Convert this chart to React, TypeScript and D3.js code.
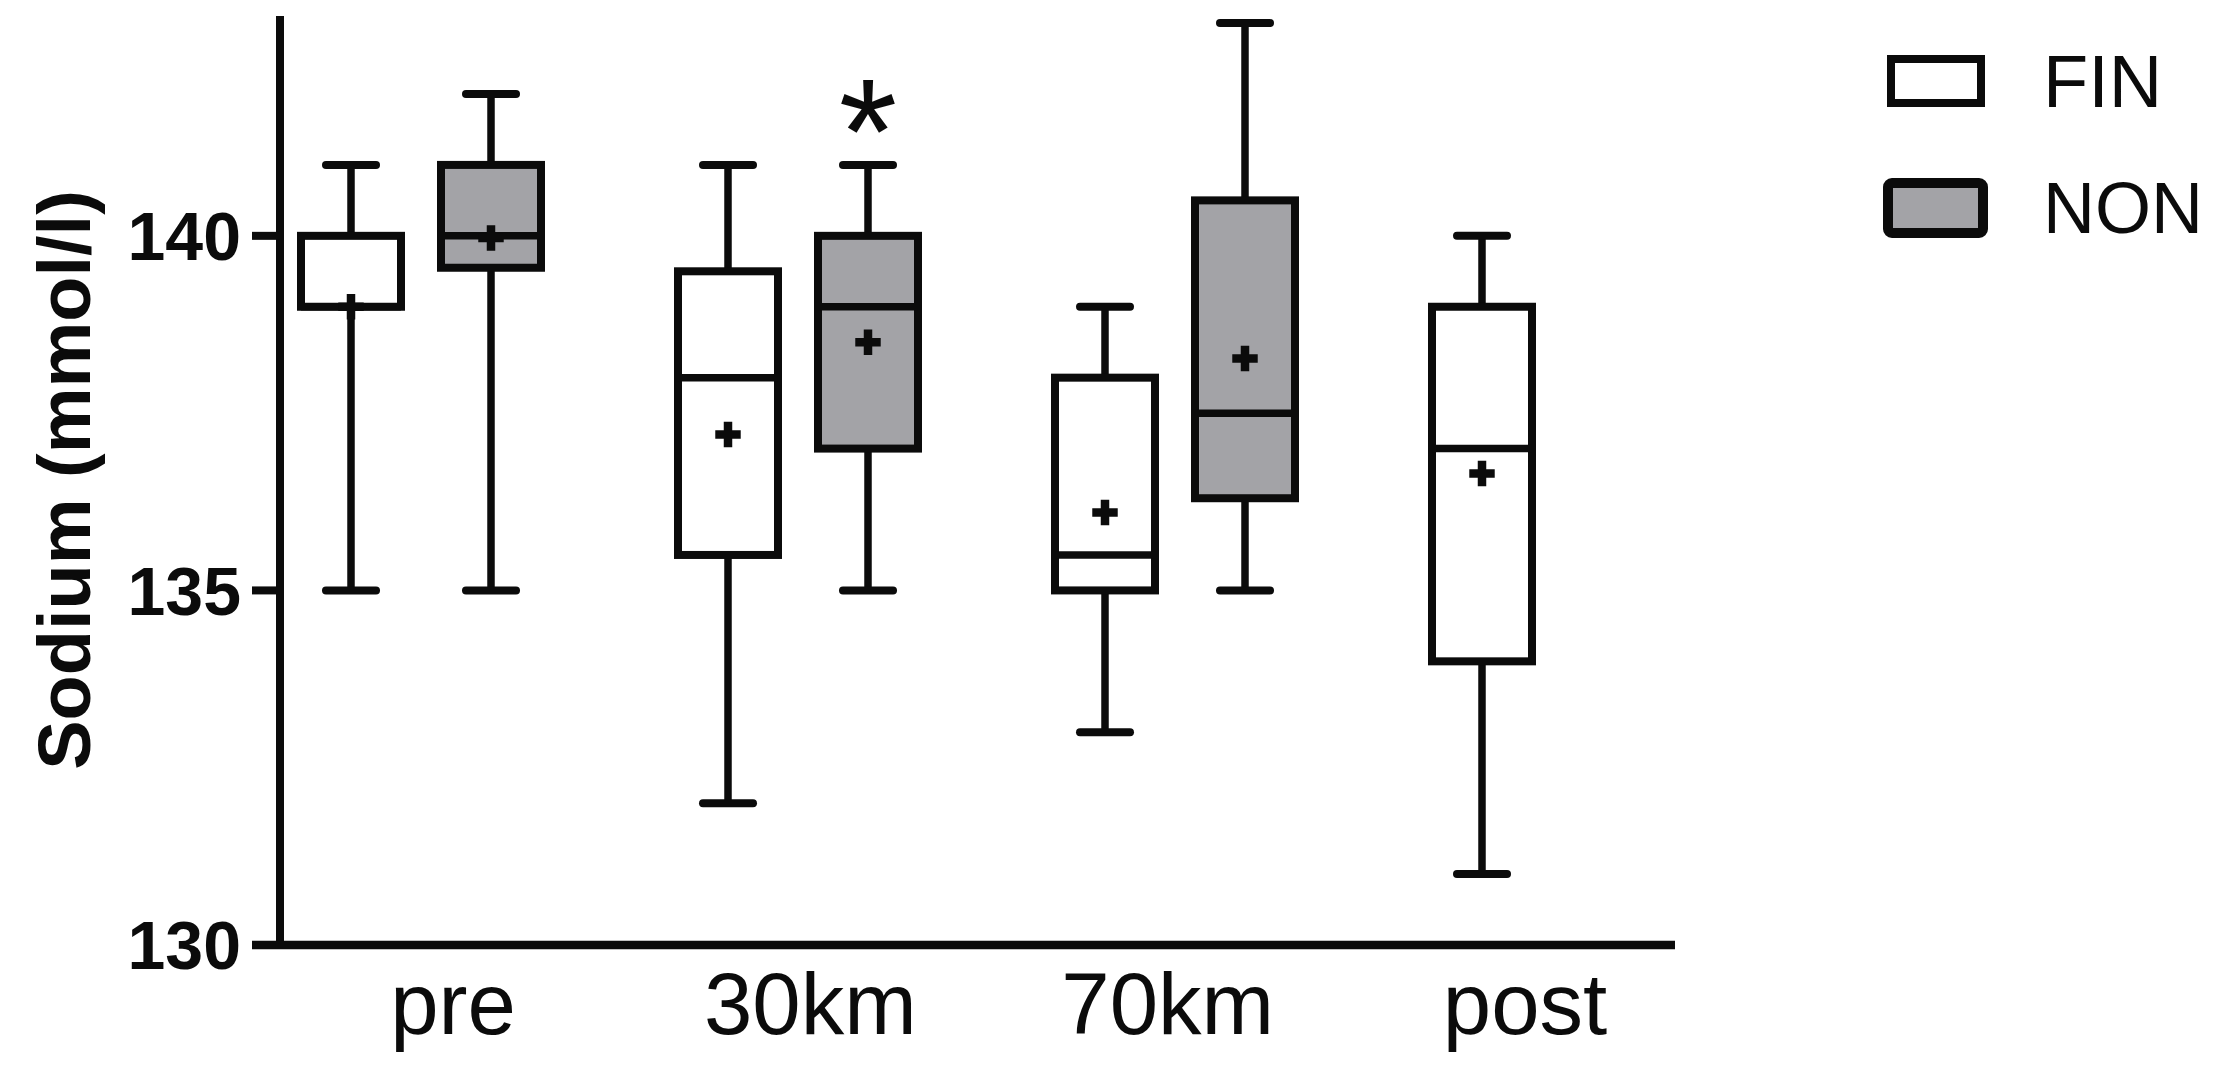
import React from 'react';
import * as d3 from 'd3';

const categories = ['pre', '30km', '70km', 'post'];
const seriesNames = ['FIN', 'NON'];

const finMin = [135, 132, 133, 131];
const finQ1 = [139, 135.5, 135, 134];
const finMedian = [139, 138, 135.5, 137];
const finQ3 = [140, 139.5, 138, 139];
const finMax = [141, 141, 139, 140];
const finMean = [139, 137.2, 136.1, 136.65];

const nonMin = [135, 135, 135, null];
const nonQ1 = [139.55, 137, 136.3, null];
const nonMedian = [140, 139, 137.5, null];
const nonQ3 = [141, 140, 140.5, null];
const nonMax = [142, 141, 143, null];
const nonMean = [139.97, 138.5, 138.27, null];

const yTicks = [130, 135, 140];
const sigCategory = '30km';
const sigSeries = 'NON';
const sigLabel = '*';
const yTitle = 'Sodium (mmol/l)';

const W = 2217;
const H = 1068;
const FONT = '"Liberation Sans", Arial, Helvetica, sans-serif';
const GRAY = '#a3a3a7';
const INK = '#0b0b0b';

export default function App() {
  const y = d3.scaleLinear().domain([130, 143.1]).range([945, 16]);
  const xGroup = d3.scalePoint<string>().domain(categories).range([421, 1552]);
  const xSeries = d3.scalePoint<string>().domain(seriesNames).range([-70, 70]);
  const xLabel = d3.scalePoint<string>().domain(categories).range([453, 1525]);
  const axisX = 280;
  const tickLeft = 252;
  const axisRight = 1675;
  const boxW = 100;
  const capW = 50;
  const sw = 8;

  type Box = { cat: string; ser: string; min: number; q1: number; med: number; q3: number; max: number; mean: number };
  const boxes: Box[] = [];
  categories.forEach((c, i) => {
    boxes.push({ cat: c, ser: 'FIN', min: finMin[i], q1: finQ1[i], med: finMedian[i], q3: finQ3[i], max: finMax[i], mean: finMean[i] });
    if (nonMin[i] != null) {
      boxes.push({ cat: c, ser: 'NON', min: nonMin[i] as number, q1: nonQ1[i] as number, med: nonMedian[i] as number, q3: nonQ3[i] as number, max: nonMax[i] as number, mean: nonMean[i] as number });
    }
  });

  const cross = d3.symbol().type(d3.symbolCross).size(360)() as string;
  const sigBox = boxes.find((b) => b.cat === sigCategory && b.ser === sigSeries)!;
  const sigX = (xGroup(sigCategory) as number) + (xSeries(sigSeries) as number);

  return (
    <svg width={W} height={H} style={{ position: 'absolute', left: 0, top: 0, background: '#fff' }} xmlns="http://www.w3.org/2000/svg">
      <rect x={0} y={0} width={W} height={H} fill="#fff" />
      {/* axes */}
      <line x1={axisX} x2={axisX} y1={y(143.1)} y2={y(130)} stroke={INK} strokeWidth={sw} />
      <line x1={tickLeft} x2={axisRight} y1={y(130)} y2={y(130)} stroke={INK} strokeWidth={sw + 0.5} />
      {yTicks.map((t) => (
        <g key={t}>
          <line x1={tickLeft} x2={axisX} y1={y(t)} y2={y(t)} stroke={INK} strokeWidth={sw} />
          <text x={241} y={y(t)} dy="0.36em" textAnchor="end" fontFamily={FONT} fontWeight="bold" fontSize={68} fill={INK}>{t}</text>
        </g>
      ))}
      {categories.map((c) => (
        <text key={c} x={xLabel(c)} y={1034} textAnchor="middle" fontFamily={FONT} fontSize={87} fill={INK}>{c}</text>
      ))}
      <text transform={`translate(90,480) rotate(-90)`} textAnchor="middle" fontFamily={FONT} fontWeight="bold" fontSize={74} fill={INK}>{yTitle}</text>

      {/* boxes */}
      {boxes.map((b) => {
        const cx = (xGroup(b.cat) as number) + (xSeries(b.ser) as number);
        const fill = b.ser === 'NON' ? GRAY : '#fff';
        return (
          <g key={b.cat + b.ser}>
            <line x1={cx} x2={cx} y1={y(b.max)} y2={y(b.q3)} stroke={INK} strokeWidth={sw - 0.5} />
            <line x1={cx} x2={cx} y1={y(b.q1)} y2={y(b.min)} stroke={INK} strokeWidth={sw - 0.5} />
            <line x1={cx - capW / 2} x2={cx + capW / 2} y1={y(b.max)} y2={y(b.max)} stroke={INK} strokeWidth={sw} strokeLinecap="round" />
            <line x1={cx - capW / 2} x2={cx + capW / 2} y1={y(b.min)} y2={y(b.min)} stroke={INK} strokeWidth={sw} strokeLinecap="round" />
            <rect x={cx - boxW / 2} y={y(b.q3)} width={boxW} height={y(b.q1) - y(b.q3)} fill={fill} stroke={INK} strokeWidth={sw} />
            <line x1={cx - boxW / 2} x2={cx + boxW / 2} y1={y(b.med)} y2={y(b.med)} stroke={INK} strokeWidth={sw - 0.5} />
            <path d={cross} transform={`translate(${cx},${y(b.mean)})`} fill={INK} />
          </g>
        );
      })}

      <text x={sigX} y={y(sigBox.max) + 19} textAnchor="middle" fontFamily={FONT} fontSize={150} fill={INK}>{sigLabel}</text>

      {/* legend */}
      <rect x={1891} y={59} width={90} height={44} fill="#fff" stroke={INK} strokeWidth={8} />
      <text x={2043} y={107} fontFamily={FONT} fontSize={74} fill={INK}>{seriesNames[0]}</text>
      <rect x={1888} y={183} width={95} height={50} rx={4} fill={GRAY} stroke={INK} strokeWidth={10} />
      <text x={2043} y={233} fontFamily={FONT} fontSize={72} fill={INK}>{seriesNames[1]}</text>
    </svg>
  );
}
